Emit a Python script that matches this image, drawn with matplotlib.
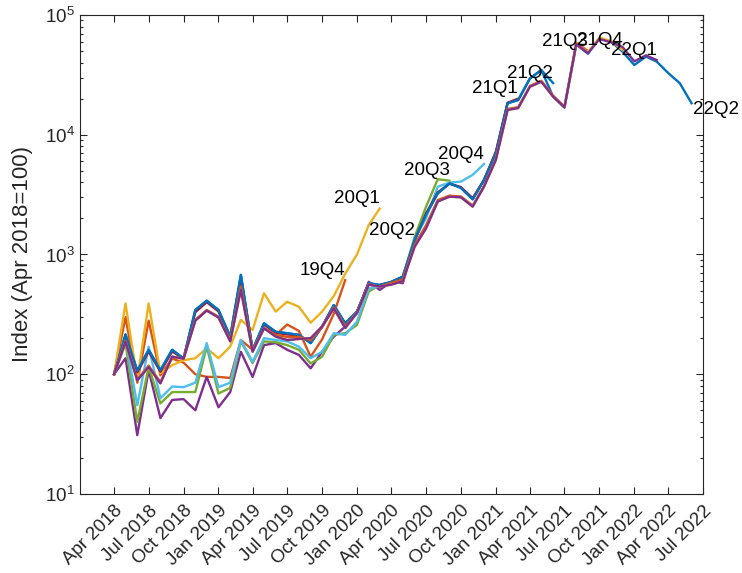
import matplotlib
matplotlib.use('Agg')
import matplotlib.pyplot as plt
import matplotlib.ticker as mticker
import pandas as pd

plt.rcParams['font.family'] = ['Liberation Sans', 'DejaVu Sans']
plt.rcParams['mathtext.fontset'] = 'custom'
plt.rcParams['mathtext.rm'] = 'Liberation Sans'
plt.rcParams['mathtext.it'] = 'Liberation Sans:italic'
plt.rcParams['mathtext.bf'] = 'Liberation Sans:bold'

# Monthly index values (Apr 2018 = 100), one list per data vintage.
# Every vintage starts in Apr 2018 and runs up to the end of its quarter.
v19Q4 = [100, 300, 85, 280, 98, 135, 125, 100, 95, 95, 93, 193, 160, 243, 213,
         260, 230, 140, 195, 320, 610]
v20Q1 = [100, 390, 90, 390, 102, 119, 131, 136, 165, 136, 170, 284, 234, 474,
         333, 403, 366, 269, 333, 450, 690, 1000, 1760, 2420]
v20Q2 = [100, 136, 31, 108, 43, 61, 62, 50, 95, 53, 71, 154, 95, 175, 182, 160,
         145, 112, 154, 206, 250, 323, 591, 506, 591, 576, 1300]
v20Q3 = [100, 180, 40, 115, 57, 71, 71, 71, 170, 69, 77, 188, 124, 188, 185,
         175, 160, 123, 140, 213, 220, 258, 490, 556, 576, 650, 1400, 2500,
         4250, 4130]
v20Q4 = [100, 200, 55, 170, 63, 79, 78, 85, 182, 78, 85, 193, 127, 200, 193,
         188, 170, 136, 154, 220, 213, 275, 520, 540, 576, 655, 1350, 2000,
         3680, 3980, 4060, 4620, 5700]
v21Q1 = [100, 205, 104, 155, 105, 155, 135, 330, 400, 335, 200, 640, 158, 260,
         222, 215, 210, 185, 248, 372, 262, 330, 570, 550, 588, 650, 1300, 2200,
         3300, 3900, 3650, 2950, 4200, 7200, 18500, 20000]
v21Q2 = [100, 215, 107, 160, 108, 160, 135, 344, 411, 344, 206, 675, 160, 266,
         226, 220, 213, 182, 250, 378, 266, 333, 576, 556, 591, 653, 1320, 2150,
         3240, 3920, 3600, 2890, 4190, 7000, 18300, 19500, 29500, 34700, 27000]
v21Q3 = [100, 190, 90, 118, 86, 140, 135, 285, 344, 302, 193, 539, 158, 242,
         213, 205, 205, 192, 246, 362, 250, 326, 562, 540, 580, 620, 1200, 1750,
         2850, 3100, 3050, 2560, 3750, 6300, 16400, 17000, 25600, 28200, 21200,
         17200, 58500, 50000]
v21Q4 = [100, 187, 89, 115, 84, 140, 135, 280, 340, 298, 188, 506, 154, 242,
         206, 193, 197, 200, 250, 355, 243, 325, 560, 540, 560, 600, 1160, 1650,
         2770, 3040, 3000, 2510, 3690, 6150, 16100, 16700, 25200, 27700, 20800,
         16900, 56500, 49000, 64500, 60500, 51000]
v22Q1 = [100, 187, 89, 115, 84, 140, 135, 280, 340, 298, 188, 506, 154, 242,
         206, 193, 197, 200, 250, 355, 243, 325, 560, 540, 560, 600, 1160, 1650,
         2770, 3040, 3000, 2510, 3690, 6150, 16100, 16700, 25200, 27700, 20800,
         16900, 57000, 48000, 63000, 59000, 54000, 41000, 46000, 42000]
v22Q2 = [100, 215, 107, 160, 108, 160, 135, 344, 411, 344, 206, 675, 160, 266,
         226, 220, 213, 182, 250, 378, 266, 333, 576, 556, 591, 653, 1320, 2150,
         3240, 3920, 3600, 2890, 4190, 7000, 18300, 19500, 29500, 34700, 20800,
         16900, 56500, 47500, 63800, 59800, 49400, 38200, 44900, 40800, 32600,
         26900, 18300]

vintages = ['19Q4', '20Q1', '20Q2', '20Q3', '20Q4', '21Q1', '21Q2', '21Q3',
            '21Q4', '22Q1', '22Q2']
series = [v19Q4, v20Q1, v20Q2, v20Q3, v20Q4, v21Q1, v21Q2, v21Q3, v21Q4,
          v22Q1, v22Q2]

# MATLAB default line colours
mcolors = ['#0072BD', '#D95319', '#EDB120', '#7E2F8E', '#77AC30', '#4DBEEE',
           '#A2142F']
colors = [mcolors[1], mcolors[2], mcolors[3], mcolors[4], mcolors[5],
          mcolors[6], mcolors[0], mcolors[1], mcolors[2], mcolors[3],
          mcolors[0]]

start = pd.Timestamp('2018-04-01')
txt = '#262626'

fig = plt.figure(figsize=(7.42, 5.73), dpi=100)
ax = fig.add_axes([0.1078, 0.1379, 0.8396, 0.836])

for name, vals, col in zip(vintages, series, colors):
    dates = pd.date_range(start, periods=len(vals), freq='MS')
    # latest vintage sits underneath the others
    z = 2 if name == '22Q2' else 3
    ax.plot(dates, vals, color=col, lw=1.7, zorder=z)
    if name == '22Q2':
        ax.annotate(name, (dates[-1], vals[-1]), xytext=(1, 2),
                    textcoords='offset points', ha='left', va='top',
                    fontsize=13.5, color='black', zorder=6,
                    annotation_clip=False)
    else:
        ax.annotate(name, (dates[-1], vals[-1]), xytext=(0, 1),
                    textcoords='offset points', ha='right', va='bottom',
                    fontsize=13.5, color='black', zorder=6)

ax.set_yscale('log')
ax.set_ylim(10, 1e5)
ax.set_xlim(pd.Timestamp('2018-01-01'), pd.Timestamp('2022-07-01'))

ticks = pd.date_range('2018-04-01', '2022-07-01', freq='3MS')
ax.set_xticks(ticks)
ax.set_xticklabels([t.strftime('%b %Y') for t in ticks], rotation=45,
                   ha='right', va='top', rotation_mode='anchor')
ax.yaxis.set_major_locator(mticker.LogLocator(base=10, numticks=10))
ax.yaxis.set_minor_locator(mticker.LogLocator(base=10, subs=range(2, 10),
                                              numticks=10))
ax.yaxis.set_minor_formatter(mticker.NullFormatter())

ax.tick_params(which='both', direction='in', top=True, right=True,
               colors=txt, labelsize=13.5, width=0.8)
ax.tick_params(which='major', length=5, pad=4)
ax.tick_params(which='minor', length=2.5)
ax.tick_params(axis='x', pad=6)
for sp in ax.spines.values():
    sp.set_color(txt)
    sp.set_linewidth(0.8)

ax.set_ylabel('Index (Apr 2018=100)', fontsize=16, color=txt, labelpad=8)

fig.savefig('out.png', dpi=100)
